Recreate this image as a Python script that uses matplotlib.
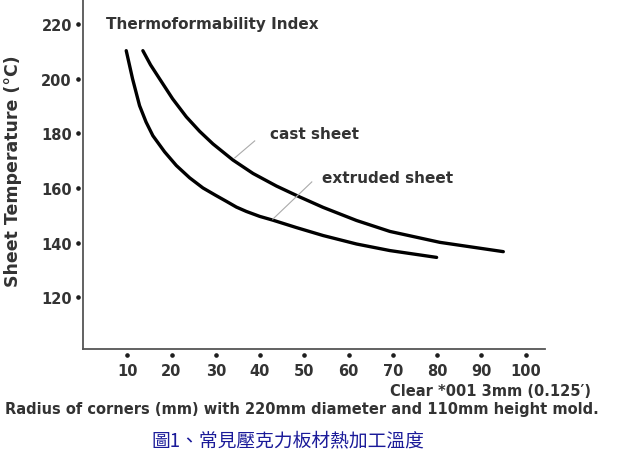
import matplotlib
matplotlib.use('Agg')
import matplotlib.pyplot as plt
import matplotlib.transforms as mtransforms

# values
x_ticks = [10, 20, 30, 40, 50, 60, 70, 80, 90, 100]
y_ticks = [120, 140, 160, 180, 200, 220]

cast_x = [13.53, 15.27, 17.31, 20.25, 23.35, 26.36, 29.37, 33.89, 38.42, 43.71,
          48.98, 54.25, 61.81, 69.34, 80.66, 94.98]
cast_y = [210.2, 205.0, 199.9, 192.6, 186.0, 180.7, 176.1, 170.2, 165.3, 160.7,
          156.7, 152.9, 148.1, 144.1, 140.1, 136.7]

ext_x = [9.77, 11.20, 12.78, 14.25, 15.79, 18.44, 21.09, 24.10, 27.10, 29.98,
         32.40, 34.66, 36.92, 39.93, 42.94, 48.24, 54.25, 61.81, 69.34, 79.91]
ext_y = [210.2, 199.9, 190.1, 184.1, 179.1, 173.2, 168.2, 163.7, 160.0, 157.3,
         155.1, 153.0, 151.4, 149.6, 148.2, 145.5, 142.6, 139.5, 137.1, 134.6]

ink = '#1e1e1e'
txt = '#333333'

fig = plt.figure(figsize=(6.29, 4.60), dpi=100)
ax = fig.add_axes([83 / 629, 1 - 350 / 460, (545 - 83) / 629, 350 / 460])
ax.set_xlim(0, 104.4)
ax.set_ylim(101.1, 229.1)

for side in ['top', 'right']:
    ax.spines[side].set_visible(False)
for side in ['left', 'bottom']:
    ax.spines[side].set_color('#555555')
    ax.spines[side].set_linewidth(1.3)

ax.set_xticks(x_ticks)
ax.set_yticks(y_ticks)
ax.tick_params(length=0, labelsize=10.5, labelcolor=txt)
for lab in ax.get_xticklabels() + ax.get_yticklabels():
    lab.set_fontweight('bold')
ax.tick_params(axis='y', pad=8)
ax.tick_params(axis='x', pad=10)

# tick dots sitting just outside the axes
ytr = mtransforms.offset_copy(ax.get_yaxis_transform(), fig=fig, x=-5.5, y=0, units='dots')
ax.plot([0] * len(y_ticks), y_ticks, 'o', ms=2.3, color=ink, transform=ytr, clip_on=False)
xtr = mtransforms.offset_copy(ax.get_xaxis_transform(), fig=fig, x=0, y=-5.7, units='dots')
ax.plot(x_ticks, [0] * len(x_ticks), 'o', ms=2.3, color=ink, transform=xtr, clip_on=False)

ax.plot(cast_x, cast_y, color='black', lw=2.4, solid_capstyle='round', solid_joinstyle='round')
ax.plot(ext_x, ext_y, color='black', lw=2.4, solid_capstyle='round', solid_joinstyle='round')

# leader lines
ax.plot([34.3, 38.8], [171.0, 177.2], color='#aaaaaa', lw=0.8)
ax.plot([42.9, 51.7], [148.6, 162.2], color='#aaaaaa', lw=0.8)

ax.text(5.1, 220, 'Thermoformability Index', fontsize=11, fontweight='bold', color=txt,
        va='center', ha='left')
ax.text(42.2, 180, 'cast sheet', fontsize=11, fontweight='bold', color=txt, va='center', ha='left')
ax.text(54.0, 164, 'extruded sheet', fontsize=11, fontweight='bold', color=txt, va='center', ha='left')

fig.text(13 / 629, 1 - 171 / 460, 'Sheet Temperature (°C)', rotation=90, fontsize=12.5,
         fontweight='bold', color=txt, ha='center', va='center')
fig.text(591 / 629, 1 - 392 / 460, 'Clear *001 3mm (0.125′)', fontsize=10.5, fontweight='bold',
         color=txt, ha='right', va='center')
fig.text(5 / 629, 1 - 410 / 460, 'Radius of corners (mm) with 220mm diameter and 110mm height mold.',
         fontsize=10.5, fontweight='bold', color=txt, ha='left', va='center')
fig.text(288 / 629, 1 - 441 / 460, '圖1、常見壓克力板材熱加工溫度', fontsize=13.5, color='#1a1a99',
         ha='center', va='center', family=['Noto Sans CJK TC', 'DejaVu Sans'])

fig.savefig('out.png', dpi=100)
